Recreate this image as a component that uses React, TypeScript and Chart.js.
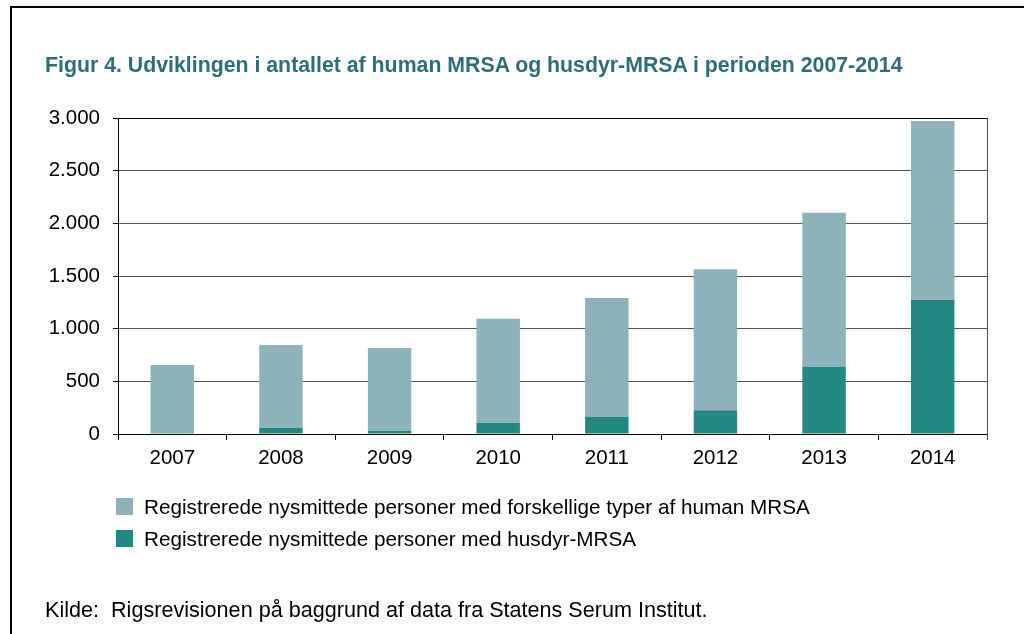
import React, { useEffect, useRef } from "react";
import { Chart, registerables } from "chart.js";

Chart.register(...registerables);

const years = ["2007", "2008", "2009", "2010", "2011", "2012", "2013", "2014"];
const humanMRSA = [648, 785, 788, 991, 1130, 1338, 1462, 1699];
const husdyrMRSA = [7, 60, 28, 104, 161, 225, 639, 1272];
const yTicks = [0, 500, 1000, 1500, 2000, 2500, 3000];

const titleText = "Figur 4. Udviklingen i antallet af human MRSA og husdyr-MRSA i perioden 2007-2014";
const legendHuman = "Registrerede nysmittede personer med forskellige typer af human MRSA";
const legendHusdyr = "Registrerede nysmittede personer med husdyr-MRSA";
const sourceText = "Kilde:  Rigsrevisionen på baggrund af data fra Statens Serum Institut.";

const LIGHT = "#8cb3b9";
const DARK = "#228882";
const FONT = "'Liberation Sans', Arial, sans-serif";

function fmt(v: number): string {
  const s = String(Math.round(v));
  return s.replace(/\B(?=(\d{3})+(?!\d))/g, ".");
}

const rightBorder = {
  id: "rightBorder",
  afterDatasetsDraw(chart: any) {
    const { ctx, chartArea } = chart;
    ctx.save();
    ctx.strokeStyle = "#555555";
    ctx.lineWidth = 1;
    ctx.beginPath();
    ctx.moveTo(Math.round(chartArea.right) + 0.5, chartArea.top);
    ctx.lineTo(Math.round(chartArea.right) + 0.5, chartArea.bottom + 6);
    ctx.stroke();
    ctx.restore();
  },
};

export default function App() {
  const ref = useRef<HTMLCanvasElement | null>(null);

  useEffect(() => {
    document.body.style.margin = "0";
    if (!ref.current) return;
    const chart = new Chart(ref.current, {
      type: "bar",
      data: {
        labels: years,
        datasets: [
          {
            label: legendHusdyr,
            data: husdyrMRSA,
            backgroundColor: DARK,
            barPercentage: 0.4,
            categoryPercentage: 1,
          },
          {
            label: legendHuman,
            data: humanMRSA,
            backgroundColor: LIGHT,
            barPercentage: 0.4,
            categoryPercentage: 1,
          },
        ],
      },
      plugins: [rightBorder],
      options: {
        animation: false,
        responsive: false,
        maintainAspectRatio: false,
        layout: { padding: { left: 48, right: 37, top: 118, bottom: 160 } },
        plugins: {
          legend: { display: false },
          tooltip: { enabled: false },
          title: { display: false },
        },
        scales: {
          x: {
            stacked: true,
            afterFit: (s: any) => {
              s.height = 40;
            },
            grid: {
              offset: true,
              drawOnChartArea: false,
              drawTicks: true,
              tickLength: 6,
              tickColor: "#000000",
            },
            border: { color: "#000000", width: 1 },
            ticks: {
              color: "#000000",
              padding: 6,
              font: { family: FONT, size: 20.5 },
            },
          },
          y: {
            stacked: true,
            min: 0,
            max: 3000,
            afterFit: (s: any) => {
              s.width = 70;
            },
            afterBuildTicks: (s: any) => {
              s.ticks = yTicks.map((v) => ({ value: v }));
            },
            grid: {
              color: (c: any) => (c.tick && c.tick.value === 3000 ? "#000000" : "#555555"),
              tickLength: 5,
              tickColor: "#000000",
            },
            border: { color: "#000000", width: 1 },
            ticks: {
              color: "#000000",
              padding: 13,
              font: { family: FONT, size: 20.5 },
              callback: (v: any) => fmt(Number(v)),
            },
          },
        },
      },
    });
    return () => chart.destroy();
  }, []);

  const sq = (c: string): React.CSSProperties => ({
    display: "inline-block",
    width: 17,
    height: 17,
    background: c,
    marginRight: 11,
    verticalAlign: "middle",
  });

  return (
    <div style={{ position: "relative", width: 1024, height: 634, background: "#fff", overflow: "hidden", fontFamily: FONT }}>
      <div style={{ position: "absolute", left: 10, top: 6, right: -4, bottom: -4, borderTop: "2px solid #000", borderLeft: "2px solid #000" }} />
      <canvas ref={ref} width={1024} height={634} style={{ position: "absolute", left: 0, top: 0, width: 1024, height: 634 }} />
      <div style={{ position: "absolute", left: 45, top: 53, fontSize: 21.3, fontWeight: "bold", color: "#2e6e7a", whiteSpace: "nowrap", lineHeight: "24px" }}>
        {titleText}
      </div>
      <div style={{ position: "absolute", left: 116, top: 493, fontSize: 20.7, color: "#000", lineHeight: "24px", whiteSpace: "nowrap" }}>
        <div style={{ height: 24 }}>
          <span style={sq(LIGHT)} />
          <span style={{ verticalAlign: "middle" }}>{legendHuman}</span>
        </div>
        <div style={{ height: 24, marginTop: 8 }}>
          <span style={sq(DARK)} />
          <span style={{ verticalAlign: "middle" }}>{legendHusdyr}</span>
        </div>
      </div>
      <div style={{ position: "absolute", left: 45, top: 598, fontSize: 21.6, color: "#000", lineHeight: "24px", whiteSpace: "pre" }}>
        {sourceText}
      </div>
    </div>
  );
}
